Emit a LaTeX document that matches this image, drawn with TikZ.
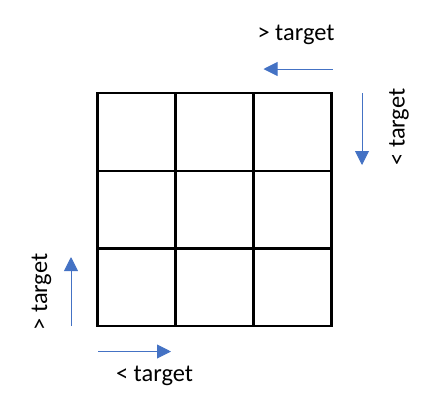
\documentclass[tikz,border=0pt]{standalone}
\usepackage{fontspec}
\setmainfont{Carlito}
\usetikzlibrary{arrows.meta}
\definecolor{arrowblue}{HTML}{4472C4}
\tikzset{
  gridline/.style={line width=2.4bp, black},
  dirarrow/.style={draw=arrowblue, line width=0.9bp, -{Triangle[length=14bp,width=14bp]}},
  lbl/.style={inner sep=0pt, font=\fontsize{24.5}{28}\selectfont}
}
\begin{document}
\begin{tikzpicture}[x=1bp,y=-1bp]
\useasboundingbox (0,0) rectangle (437,404);
% grid
\draw[gridline] (97.5,93) rectangle (331.5,326);
\draw[gridline] (175.5,93) -- (175.5,326);
\draw[gridline] (253.5,93) -- (253.5,326);
\draw[gridline] (97.5,170.7) -- (331.5,170.7);
\draw[gridline] (97.5,248.3) -- (331.5,248.3);
% arrow endpoints
\coordinate (ts) at (332.5,69);
\coordinate (te) at (263.5,69);
\coordinate (rs) at (362,93);
\coordinate (re) at (362,165);
\coordinate (ls) at (71,326);
\coordinate (le) at (71,257);
\coordinate (bs) at (98,351.5);
\coordinate (be) at (171,351.5);
\draw[dirarrow] (ts) -- (te);
\draw[dirarrow] (rs) -- (re);
\draw[dirarrow] (ls) -- (le);
\draw[dirarrow] (bs) -- (be);
% labels
\node[lbl] (tl) at (296,34.5) {> target};
\node[lbl, rotate=90] (rl) at (399,127) {< target};
\node[lbl, rotate=90] (ll) at (41.5,292) {> target};
\node[lbl] (bl) at (154.5,375.5) {< target};
\end{tikzpicture}
\end{document}
